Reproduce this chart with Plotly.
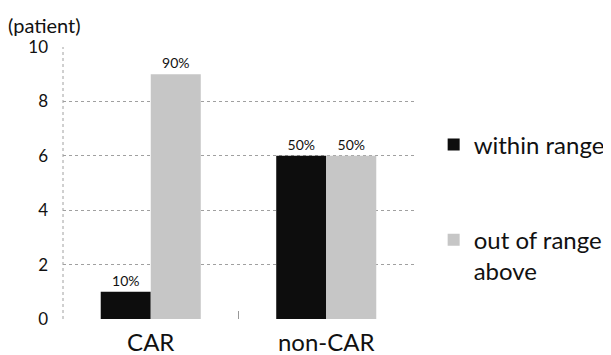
import plotly.graph_objects as go

categories = ["CAR", "non-CAR"]
within_range = [1, 6]
out_of_range_above = [9, 6]
within_pct = ["10%", "50%"]
above_pct = ["90%", "50%"]
y_ticks = [0, 2, 4, 6, 8, 10]

FONT = "Lato"

fig = go.Figure()
fig.add_trace(go.Bar(
    x=categories, y=within_range, name="within range",
    marker=dict(color="#0d0d0d", line=dict(width=0)),
    text=within_pct, textposition="outside",
    textfont=dict(size=14, color="#111", family=FONT),
    legendgroup="a", cliponaxis=False,
))
fig.add_trace(go.Bar(
    x=categories, y=out_of_range_above, name="out of range<br>above",
    marker=dict(color="#c6c6c6", line=dict(width=0)),
    text=above_pct, textposition="outside",
    textfont=dict(size=14, color="#111", family=FONT),
    legendgroup="b", cliponaxis=False,
))

fig.update_layout(
    width=603, height=347,
    margin=dict(l=55, r=197, t=39, b=36, autoexpand=False),
    paper_bgcolor="white", plot_bgcolor="white",
    font=dict(family=FONT, color="#111"),
    barmode="group", bargap=0.43, bargroupgap=0,
    showlegend=True,
    legend=dict(
        x=1.056, xanchor="left", y=0.723, yanchor="top",
        font=dict(size=24, family=FONT),
        traceorder="grouped", tracegroupgap=61, valign="top",
        bgcolor="rgba(0,0,0,0)",
    ),
    xaxis=dict(
        type="category", showgrid=False, showline=False, zeroline=False,
        tickson="boundaries", ticks="inside", ticklen=8, tickcolor="#999",
        tickfont=dict(size=24, family=FONT), ticklabelstandoff=7,
    ),
    yaxis=dict(
        range=[0, 10], tickvals=y_ticks, showgrid=True,
        gridcolor="#a0a0a0", griddash="dot", gridwidth=1,
        zeroline=False, showline=False, ticks="",
        tickfont=dict(size=17, family=FONT), ticklabelstandoff=14,
    ),
    shapes=[dict(type="line", xref="paper", yref="paper", x0=0, x1=0, y0=0, y1=1,
                 line=dict(color="#a0a0a0", width=1, dash="dot"))],
    annotations=[dict(text="(patient)", xref="paper", yref="paper", x=-0.163, y=1.03,
                      xanchor="left", yanchor="bottom", showarrow=False,
                      font=dict(size=20, family=FONT))],
)

fig.write_html("out.html")
